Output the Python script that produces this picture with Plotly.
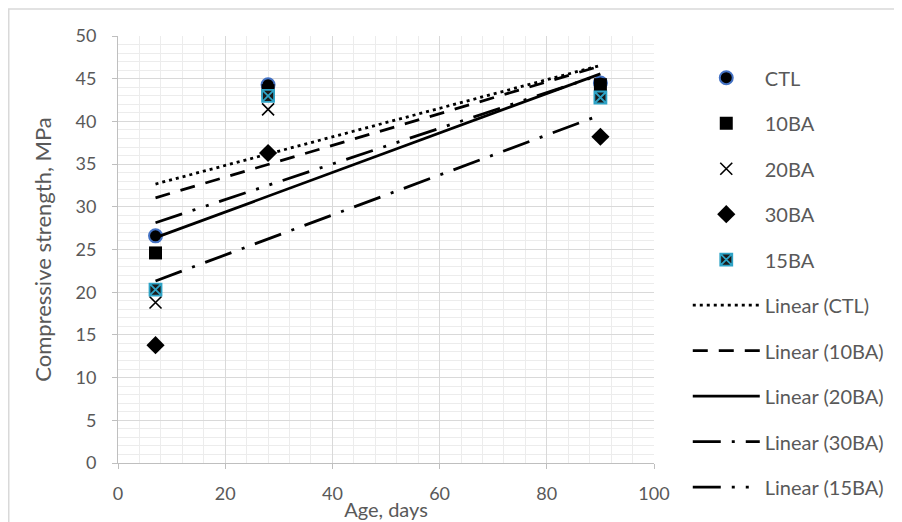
import numpy as np
import plotly.graph_objects as go

age = [7, 28, 90]
ctl = [26.6, 44.3, 44.5]
ba10 = [24.6, 43.6, 44.3]
ba20 = [18.8, 41.4, 43.0]
ba30 = [13.8, 36.3, 38.2]
ba15 = [20.3, 43.0, 42.8]

names = ["CTL", "10BA", "20BA", "30BA", "15BA"]
series = [ctl, ba10, ba20, ba30, ba15]

x_ticks = [0, 20, 40, 60, 80, 100]
y_ticks = [0, 5, 10, 15, 20, 25, 30, 35, 40, 45, 50]

FONT = "Lato"
GRAY = "#595959"

fig = go.Figure()

marker_styles = {
    "CTL": dict(symbol="circle", size=13, color="black", line=dict(color="#4472C4", width=2)),
    "10BA": dict(symbol="square", size=13, color="black", line=dict(width=0)),
    "20BA": dict(symbol="x-thin", size=12, color="black", line=dict(color="black", width=1.6)),
    "30BA": dict(symbol="diamond", size=14, color="black", line=dict(width=0)),
    "15BA": dict(symbol="square-x", size=12, color="#1a1a1a", line=dict(color="#2EA3C6", width=1.8)),
}

gi = 0
for nm, vals in zip(names, series):
    fig.add_trace(go.Scatter(x=age, y=vals, mode="markers", name=nm,
                             marker=marker_styles[nm], legendgroup="g%d" % gi,
                             legendrank=gi))
    gi += 1

dashes = {
    "CTL": "3px,4px",
    "10BA": "15px,11px",
    "20BA": "solid",
    "30BA": "28px,11px,3px,11px",
    "15BA": "28px,11px,3px,11px,3px,11px",
}
for nm, vals in zip(names, series):
    slope, intercept = np.polyfit(age, vals, 1)
    xs = [min(age), max(age)]
    ys = [slope * v + intercept for v in xs]
    fig.add_trace(go.Scatter(x=xs, y=ys, mode="lines", name="Linear (%s)" % nm,
                             line=dict(color="black", width=2.8, dash=dashes[nm]),
                             legendgroup="g%d" % gi, legendrank=gi))
    gi += 1

# page body has an 8px margin; compensate so the plot area lands at 118..654 x 36..463
L, T = 110, 28
pw, ph = 536, 427
R = 902 - L - pw
B = 522 - T - ph

fig.add_shape(type="rect", xref="paper", yref="paper",
              x0=(0.75 - L) / pw, x1=(901 - L) / pw,
              y0=-(B + 20) / ph, y1=(ph + T - 1) / ph,
              line=dict(color="#d9d9d9", width=1.5), layer="below")

axis_common = dict(showline=True, linecolor="#bfbfbf", linewidth=1,
                   ticks="outside", ticklen=5, tickcolor="#bfbfbf",
                   gridcolor="#d9d9d9", gridwidth=1, zeroline=False,
                   tickfont=dict(family=FONT, size=18, color=GRAY))

fig.update_xaxes(range=[0, 100], tickvals=x_ticks, ticktext=[str(v) for v in x_ticks],
                 minor=dict(dtick=4, showgrid=True, gridcolor="#ececec", ticks=""),
                 ticklabelstandoff=9,
                 title=dict(text="Age, days", font=dict(family=FONT, size=20, color=GRAY), standoff=0),
                 **axis_common)
fig.update_yaxes(range=[0, 50], tickvals=y_ticks, ticktext=[str(v) for v in y_ticks],
                 minor=dict(dtick=1, showgrid=True, gridcolor="#ececec", ticks=""),
                 ticklabelstandoff=12,
                 title=dict(text="Compressive strength, MPa", font=dict(family=FONT, size=22, color=GRAY), standoff=17),
                 **axis_common)

fig.update_layout(
    width=902, height=522,
    margin=dict(l=L, r=R, t=T, b=B),
    paper_bgcolor="white", plot_bgcolor="white",
    font=dict(family=FONT, color=GRAY),
    showlegend=True,
    legend=dict(x=1.063, xanchor="left", y=0.948, yanchor="top",
                font=dict(family=FONT, size=20, color=GRAY),
                tracegroupgap=16.5, itemwidth=67, bgcolor="rgba(0,0,0,0)",
                maxheight=600),
)

fig.write_html("out.html")
